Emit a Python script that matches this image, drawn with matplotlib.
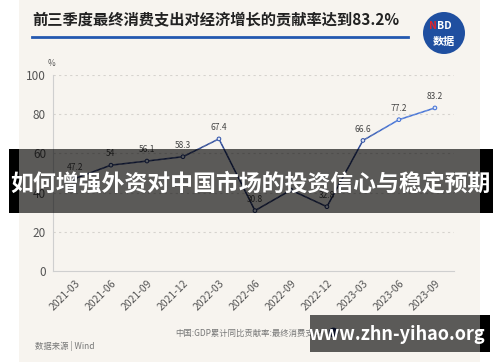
import numpy as np
import matplotlib.pyplot as plt
from matplotlib.patches import Rectangle, Circle
from matplotlib.collections import LineCollection
from matplotlib.colors import LinearSegmentedColormap

plt.rcParams['font.family'] = ['Noto Sans CJK SC', 'DejaVu Sans']

quarters = ['2021-03', '2021-06', '2021-09', '2021-12', '2022-03', '2022-06',
            '2022-09', '2022-12', '2023-03', '2023-06', '2023-09']
values = [47.2, 54, 56.1, 58.3, 67.4, 30.8, 41.3, 32.8, 66.6, 77.2, 83.2]
shown = [True, True, True, True, True, True, False, True, True, True, True]
y_ticks = [0, 20, 40, 60, 80, 100]

title = '前三季度最终消费支出对经济增长的贡献率达到83.2%'
series_name = '中国:GDP累计同比贡献率:最终消费支出'
source = '数据来源 | Wind'
banner = '如何增强外资对中国市场的投资信心与稳定预期'
site = 'www.zhn-yihao.org'

W, H = 500, 362
fig = plt.figure(figsize=(W / 100, H / 100), dpi=100)
fig.patch.set_facecolor('white')

def fx(px):
    return px / W

def fy(py):
    return 1 - py / H

def rect(x0, y0, x1, y1, color, z, alpha=1.0):
    fig.add_artist(Rectangle((fx(x0), fy(y1)), fx(x1) - fx(x0), fy(y0) - fy(y1),
                             transform=fig.transFigure, facecolor=color, alpha=alpha,
                             edgecolor='none', zorder=z))

# beige card
rect(19, 0, 480, 362, '#f7f4ef', -5)

ax = fig.add_axes([fx(53), fy(271), fx(454) - fx(53), fy(75) - fy(271)])
ax.set_facecolor('none')
ax.set_zorder(1)

x = np.arange(len(values))
vals = np.array(values, dtype=float)

# colour the line by height: dark navy low, bright blue high
cmap = LinearSegmentedColormap.from_list('nb', ['#1b2a63', '#1f3478', '#3f6fd6'])
norm = plt.Normalize(45, 75)
n_sub = 30
segs, cols = [], []
for i in range(len(x) - 1):
    xs = np.linspace(x[i], x[i + 1], n_sub + 1)
    ys = np.linspace(vals[i], vals[i + 1], n_sub + 1)
    for j in range(n_sub):
        segs.append([(xs[j], ys[j]), (xs[j + 1], ys[j + 1])])
        cols.append((ys[j] + ys[j + 1]) / 2)
lc = LineCollection(segs, cmap=cmap, norm=norm, linewidth=1.1, zorder=3)
lc.set_array(np.array(cols))
ax.add_collection(lc)
ax.scatter(x, vals, s=7, color='#dfe6f5', edgecolors=cmap(norm(vals)),
           linewidths=0.7, zorder=4)

for xi, v, s in zip(x, vals, shown):
    if s:
        ax.annotate(f'{v:g}', (xi, v), xytext=(0, 5), textcoords='offset points',
                    ha='center', va='bottom', fontsize=6, color='#444444')

ax.set_xlim(-0.61, 10.53)
ax.set_ylim(0, 100)
ax.set_yticks(y_ticks)
ax.set_yticklabels([str(t) for t in y_ticks], fontsize=8.5, color='#555555')
ax.set_xticks(x)
ax.set_xticklabels(quarters, rotation=45, ha='right', rotation_mode='anchor',
                   fontsize=7.5, color='#555555')
ax.tick_params(length=0, pad=5)
for yv in y_ticks[1:]:
    ax.axhline(yv, color='#d6d3ce', linewidth=0.8, linestyle=(0, (2, 3)), zorder=1)
for side in ['top', 'right']:
    ax.spines[side].set_visible(False)
ax.spines['left'].set_color('#cfcfcf')
ax.spines['bottom'].set_color('#cfcfcf')

fig.text(fx(52), fy(63), '%', fontsize=6, color='#555555', ha='center', va='center')

# title and underline
fig.text(fx(32), fy(20), title, fontsize=11, fontweight='bold', color='#222222',
         ha='left', va='center')
fig.add_artist(plt.Line2D([fx(32), fx(408)], [fy(37), fy(37)], color='#2458b0',
                          linewidth=2, transform=fig.transFigure))

# NBD badge
fig.add_artist(Circle((4.44, (H - 33) / 100), 0.21, transform=fig.dpi_scale_trans,
                      facecolor='#1f4fa0', edgecolor='none', zorder=2))
fig.text(fx(437), fy(26), 'N', fontsize=7.5, fontweight='bold', color='#e0242a',
         ha='right', va='center', style='italic', zorder=3)
fig.text(fx(437), fy(26), 'BD', fontsize=7.5, fontweight='bold', color='white',
         ha='left', va='center', style='italic', zorder=3)
fig.text(fx(444), fy(41), '数据', fontsize=8, fontweight='bold', color='white',
         ha='center', va='center', style='italic', zorder=3)

# legend and source
fig.text(fx(175), fy(333), series_name, fontsize=6, color='#777777', ha='left', va='center')
fig.add_artist(plt.Line2D([fx(333)], [fy(332)], marker='o', markersize=6,
                          color='#1b2a63', transform=fig.transFigure))
fig.text(fx(35), fy(346), source, fontsize=6, color='#777777', ha='left', va='center')

# overlay banners (semi-transparent over the card, black at the edges)
rect(9, 149, 19, 213, 'black', 10)
rect(480, 149, 493, 213, 'black', 10)
rect(19, 149, 480, 213, 'black', 11, alpha=0.63)
fig.text(0.5, fy(184), banner, fontsize=16.5, fontweight='bold', color='white',
         ha='center', va='center', zorder=12)

rect(480, 315, 490, 352, 'black', 10)
rect(310, 315, 480, 352, 'black', 11, alpha=0.63)
fig.text(fx(397), fy(334), site, fontsize=13, fontweight='bold', color='white',
         ha='center', va='center', zorder=12)

fig.savefig('out.png', dpi=100)
